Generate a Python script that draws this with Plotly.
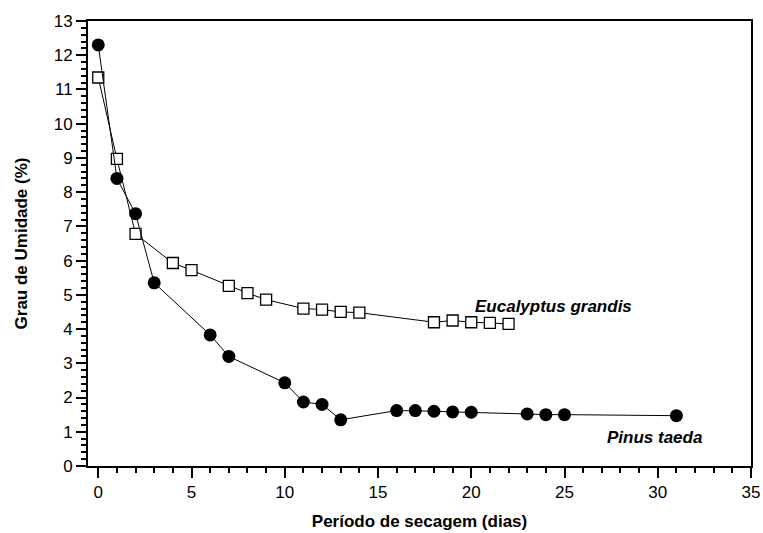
import plotly.graph_objects as go

pinus_x = [0, 1, 2, 3, 6, 7, 10, 11, 12, 13, 16, 17, 18, 19, 20, 23, 24, 25, 31]
pinus_y = [12.3, 8.4, 7.37, 5.35, 3.83, 3.2, 2.43, 1.87, 1.8, 1.35, 1.62, 1.62, 1.6, 1.58, 1.57, 1.52, 1.5, 1.5, 1.47]

euc_x = [0, 1, 2, 4, 5, 7, 8, 9, 11, 12, 13, 14, 18, 19, 20, 21, 22]
euc_y = [11.35, 8.97, 6.78, 5.93, 5.72, 5.26, 5.05, 4.86, 4.6, 4.57, 4.5, 4.48, 4.2, 4.25, 4.2, 4.18, 4.15]

x_ticks = [0, 5, 10, 15, 20, 25, 30, 35]

font = "Liberation Sans, Arial, Helvetica, sans-serif"

fig = go.Figure()
fig.add_trace(go.Scatter(x=euc_x, y=euc_y, mode="lines+markers",
                         line=dict(color="black", width=1),
                         marker=dict(symbol="square", size=11, color="white",
                                     line=dict(color="black", width=1.3)),
                         name="Eucalyptus grandis", showlegend=False))
fig.add_trace(go.Scatter(x=pinus_x, y=pinus_y, mode="lines+markers",
                         line=dict(color="black", width=1),
                         marker=dict(symbol="circle", size=13, color="black"),
                         name="Pinus taeda", showlegend=False))

fig.add_annotation(x=24.4, y=4.65, xref="x", yref="y", text="<b><i>Eucalyptus grandis</i></b>",
                   showarrow=False, xanchor="center", yanchor="middle",
                   font=dict(family=font, size=17, color="black"))
fig.add_annotation(x=29.85, y=0.82, xref="x", yref="y", text="<b><i>Pinus taeda</i></b>",
                   showarrow=False, xanchor="center", yanchor="middle",
                   font=dict(family=font, size=17, color="black"))

fig.update_layout(
    width=763, height=533,
    margin=dict(l=88, r=12, t=21, b=67),
    paper_bgcolor="white", plot_bgcolor="white",
    font=dict(family=font, size=17, color="black"),
)
fig.update_xaxes(range=[-0.55, 35], tickmode="array", tickvals=x_ticks,
                 ticks="outside", ticklen=10, tickwidth=1.5, tickcolor="black",
                 minor=dict(dtick=1, tick0=0, ticks="outside", ticklen=5, tickwidth=1.5, tickcolor="black"),
                 showline=True, linecolor="black", linewidth=2, mirror=True,
                 showgrid=False, zeroline=False, automargin=False,
                 title=dict(text="<b>Período de secagem (dias)</b>", font=dict(size=17), standoff=14))
fig.update_yaxes(range=[0, 13], dtick=1, tick0=0,
                 ticks="outside", ticklen=10, tickwidth=1.5, tickcolor="black",
                 minor=dict(dtick=0.2, tick0=0, ticks="outside", ticklen=5, tickwidth=1.5, tickcolor="black"),
                 showline=True, linecolor="black", linewidth=2, mirror=True,
                 showgrid=False, zeroline=False, automargin=False,
                 title=dict(text="<b>Grau de Umidade (%)</b>", font=dict(size=17), standoff=22))

fig.write_html("out.html")
